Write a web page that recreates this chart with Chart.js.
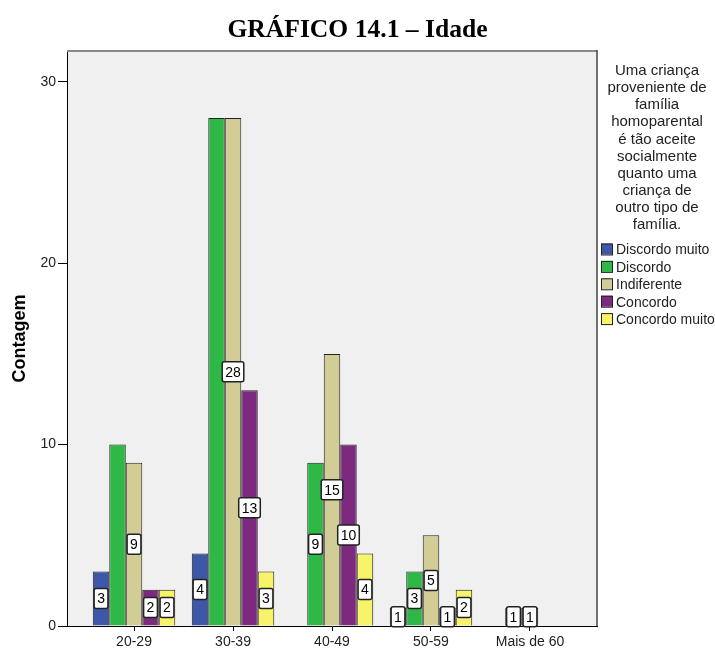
<!DOCTYPE html>
<html>
<head>
<meta charset="utf-8">
<script src="https://cdn.jsdelivr.net/npm/chart.js@4.4.1/dist/chart.umd.min.js"></script>
<style>
  body { margin: 0; background: #fff; }
</style>
</head>
<body>
<canvas id="idadeChart" width="715" height="649"></canvas>
<script>
const categories = ['20-29', '30-39', '40-49', '50-59', 'Mais de 60'];
const discordoMuito = [3, 4, 0, 1, 0];
const discordo = [10, 28, 9, 3, 1];
const indiferente = [9, 28, 15, 5, 1];
const concordo = [2, 13, 10, 1, 0];
const concordoMuito = [2, 3, 4, 2, 0];
const yTicks = [0, 10, 20, 30];
const chartTitle = 'GRÁFICO 14.1 – Idade';
const legendTitle = ['Uma criança', 'proveniente de', 'família', 'homoparental',
  'é tão aceite', 'socialmente', 'quanto uma', 'criança de', 'outro tipo de', 'família.'];

const sans = "'Liberation Sans', Arial, sans-serif";

function points(values) {
  return values.map((v, i) => ({ x: i, y: v }));
}

function series(label, values, color) {
  return {
    label: label,
    data: points(values),
    backgroundColor: color,
    borderColor: '#222',
    borderWidth: 1,
    barPercentage: 1,
    categoryPercentage: 0.833
  };
}

// grey plot background + top/right frame
const plotFrame = {
  id: 'plotFrame',
  beforeDraw(chart) {
    const { ctx, chartArea: a } = chart;
    ctx.save();
    ctx.fillStyle = '#f0f0f0';
    ctx.fillRect(a.left, a.top, a.right - a.left, a.bottom - a.top);
    ctx.restore();
  },
  afterDraw(chart) {
    const { ctx, chartArea: a } = chart;
    ctx.save();
    ctx.strokeStyle = '#8a8a8a';
    ctx.lineWidth = 2;
    ctx.beginPath();
    ctx.moveTo(a.left, a.top);
    ctx.lineTo(a.right, a.top);
    ctx.stroke();
    ctx.strokeStyle = '#444';
    ctx.lineWidth = 1.5;
    ctx.beginPath();
    ctx.moveTo(a.right, a.top - 1);
    ctx.lineTo(a.right, a.bottom);
    ctx.stroke();
    // title centred on the whole page
    ctx.fillStyle = '#000';
    ctx.font = "bold 25.6px 'Liberation Serif', 'Times New Roman', serif";
    ctx.textAlign = 'center';
    ctx.textBaseline = 'alphabetic';
    ctx.fillText(chartTitle, chart.width / 2, 37);
    ctx.restore();
  }
};

// white value boxes in the middle of each bar, hiding ones that collide
const valueBoxes = {
  id: 'valueBoxes',
  afterDatasetsDraw(chart) {
    const ctx = chart.ctx;
    ctx.save();
    ctx.font = '14px ' + sans;
    ctx.textAlign = 'center';
    ctx.textBaseline = 'middle';
    var boxes = [];
    chart.data.datasets.forEach((ds, di) => {
      chart.getDatasetMeta(di).data.forEach((bar, i) => {
        const v = ds.data[i].y;
        if (!v) return;
        const w = ctx.measureText(String(v)).width + 6;
        boxes.push({ v: v, x: bar.x, y: (bar.y + bar.base) / 2, w: w, h: 20 });
      });
    });
    var kept = [];
    boxes.reverse().forEach(b => {
      const hit = kept.some(k => Math.abs(k.x - b.x) < (k.w + b.w) / 2 &&
                                  Math.abs(k.y - b.y) < (k.h + b.h) / 2);
      if (!hit) kept.push(b);
    });
    kept.forEach(b => {
      ctx.fillStyle = '#fff';
      ctx.strokeStyle = '#222';
      ctx.lineWidth = 1.5;
      ctx.beginPath();
      ctx.roundRect(b.x - b.w / 2, b.y - b.h / 2, b.w, b.h, 2);
      ctx.fill();
      ctx.stroke();
      ctx.fillStyle = '#000';
      ctx.fillText(String(b.v), b.x, b.y + 1);
    });
    ctx.restore();
  }
};

// legend on the right, with its multi-line title
const sideLegend = {
  id: 'sideLegend',
  afterDraw(chart) {
    const ctx = chart.ctx;
    ctx.save();
    ctx.fillStyle = '#222';
    ctx.textAlign = 'center';
    ctx.textBaseline = 'middle';
    ctx.font = '15px ' + sans;
    legendTitle.forEach((t, i) => ctx.fillText(t, 657, 71 + i * 17.1));
    ctx.font = '14px ' + sans;
    ctx.textAlign = 'left';
    chart.data.datasets.forEach((ds, i) => {
      const y = 249.5 + i * 17.4;
      ctx.fillStyle = ds.backgroundColor;
      ctx.fillRect(601, y - 6, 11, 11);
      ctx.strokeStyle = '#222';
      ctx.lineWidth = 1;
      ctx.strokeRect(601.5, y - 5.5, 11, 11);
      ctx.fillStyle = '#222';
      ctx.fillText(ds.label, 616, y + 1);
    });
    ctx.restore();
  }
};

new Chart('idadeChart', {
  type: 'bar',
  data: {
    datasets: [
      series('Discordo muito', discordoMuito, '#3d58a8'),
      series('Discordo', discordo, '#2fb845'),
      series('Indiferente', indiferente, '#d2cd97'),
      series('Concordo', concordo, '#7b2a7f'),
      series('Concordo muito', concordoMuito, '#f8f46a')
    ]
  },
  options: {
    responsive: false,
    animation: false,
    layout: { padding: { left: 0, right: 118, top: 51, bottom: 0 } },
    plugins: {
      legend: { display: false },
      tooltip: { enabled: false },
      title: { display: false }
    },
    scales: {
      x: {
        type: 'linear',
        offset: false,
        min: -0.677,
        max: 4.677,
        afterFit(scale) { scale.height = 23; },
        grid: { offset: false, drawOnChartArea: false, drawTicks: true, tickLength: 5, color: '#000' },
        border: { display: true, color: '#000', width: 1 },
        ticks: {
          stepSize: 1,
          includeBounds: false,
          autoSkip: false,
          maxRotation: 0,
          padding: 3,
          color: '#222',
          font: { family: sans, size: 14 },
          callback: (v) => Number.isInteger(v) ? categories[v] : ''
        }
      },
      y: {
        min: 0,
        max: 31.7,
        afterFit(scale) { scale.width = 67; },
        afterBuildTicks(scale) { scale.ticks = yTicks.map(v => ({ value: v })); },
        grid: { drawOnChartArea: false, drawTicks: true, tickLength: 9, color: '#000' },
        border: { display: true, color: '#000', width: 1 },
        ticks: {
          padding: 2,
          color: '#222',
          font: { family: sans, size: 14 }
        },
        title: {
          display: true,
          text: 'Contagem',
          color: '#000',
          font: { family: sans, size: 18, weight: 'bold' },
          padding: { top: 9, bottom: 0 }
        }
      }
    }
  },
  plugins: [plotFrame, valueBoxes, sideLegend]
});
</script>
</body>
</html>
